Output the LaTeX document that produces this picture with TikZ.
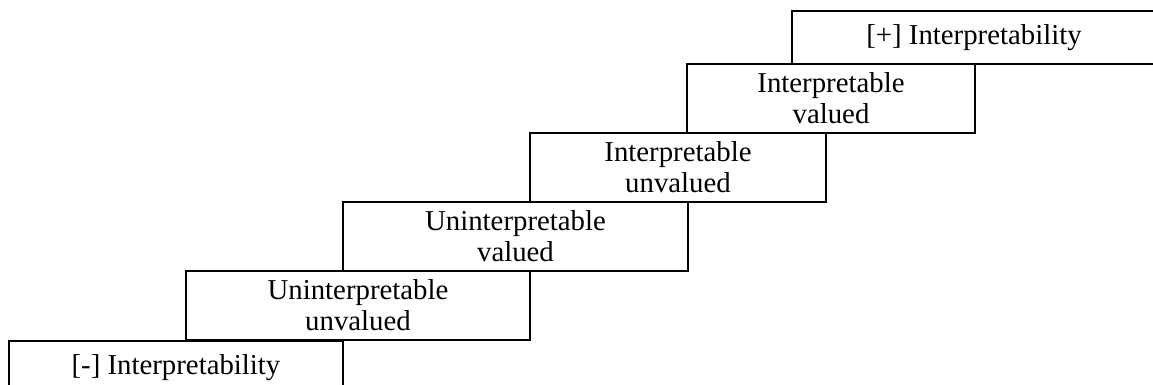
\documentclass[tikz,border=0pt]{standalone}
\usepackage{fontspec}
\setmainfont{Liberation Serif}
\tikzset{
  stair/.style 2 args={draw, rectangle, line width=1.2pt, inner sep=0pt, outer sep=0pt,
    anchor=north west, align=center,
    minimum width=#1*0.5pt, minimum height=#2*0.5pt,
    font=\fontsize{14.4}{15.5}\selectfont}
}

\begin{document}
\begin{tikzpicture}[x=0.5pt,y=-0.5pt]
    \useasboundingbox (0,0) rectangle (1153,385);
    \clip (0,0) rectangle (1153,385);
    % lowest step first, then up to the top
    \node [stair={334}{53}] (neginterp) at (9,341) {[-] Interpretability};
    \node [stair={344}{69}] (uninunval) at (186,271) {Uninterpretable\\unvalued};
    \node [stair={345}{69}] (uninval) at (343,202) {Uninterpretable\\valued};
    \node [stair={296}{69}] (interunval) at (530,133) {Interpretable\\unvalued};
    \node [stair={288}{69}] (interval) at (687,64) {Interpretable\\valued};
    \node [stair={364}{53}] (posinterp) at (792,11) {[+] Interpretability};
\end{tikzpicture}
\end{document}
